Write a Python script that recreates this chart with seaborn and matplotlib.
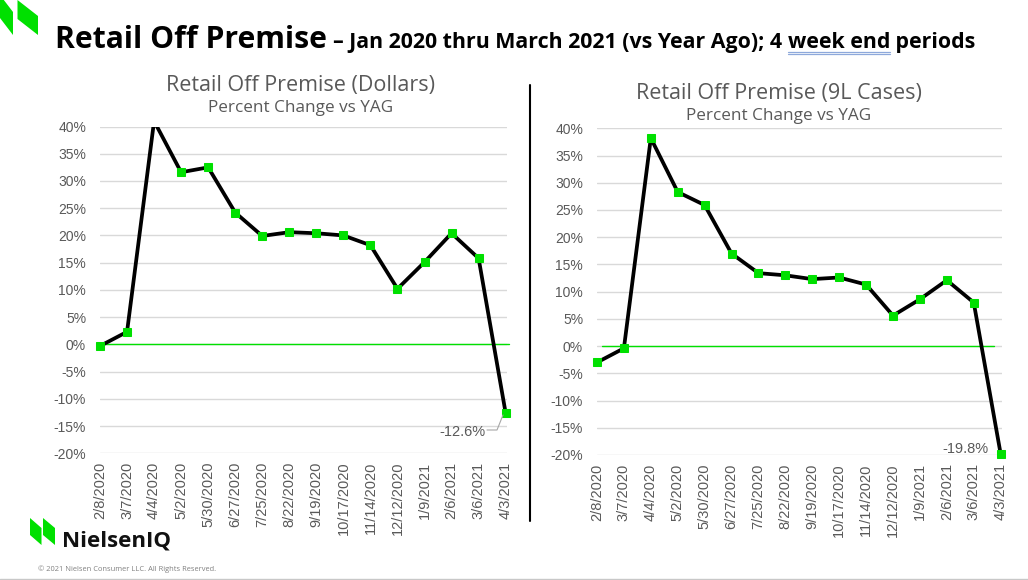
import matplotlib
matplotlib.use("Agg")
import matplotlib.pyplot as plt
import matplotlib.ticker as mticker
from matplotlib.patches import Polygon, Rectangle
from matplotlib.lines import Line2D
import seaborn as sns
import pandas as pd

periods = ["2/8/2020", "3/7/2020", "4/4/2020", "5/2/2020", "5/30/2020", "6/27/2020",
           "7/25/2020", "8/22/2020", "9/19/2020", "10/17/2020", "11/14/2020",
           "12/12/2020", "1/9/2021", "2/6/2021", "3/6/2021", "4/3/2021"]
dollars = [-0.3, 2.3, 41.0, 31.6, 32.5, 24.2, 19.9, 20.6, 20.4, 20.0, 18.2,
           10.2, 15.1, 20.4, 15.8, -12.6]
cases = [-3.0, -0.4, 38.2, 28.3, 25.9, 17.0, 13.4, 13.0, 12.3, 12.6, 11.3,
         5.6, 8.6, 12.1, 8.0, -19.8]
y_ticks = [-20, -15, -10, -5, 0, 5, 10, 15, 20, 25, 30, 35, 40]
chart_titles = ["Retail Off Premise (Dollars)", "Retail Off Premise (9L Cases)"]
chart_subtitle = "Percent Change vs YAG"
main_title = "Retail Off Premise"
main_sub = "\u2013 Jan 2020 thru March 2021 (vs Year Ago); 4 "
main_sub_u = "week end"
main_sub_end = " periods"

sns.set_theme(style="white")
plt.rcParams["font.family"] = ["Liberation Sans", "DejaVu Sans"]

W, H = 1028, 580
fig = plt.figure(figsize=(W / 100, H / 100), dpi=100)
fig.patch.set_facecolor("white")

GREEN = "#00E000"
GRAY = "#595959"
TFONT = ["Open Sans", "DejaVu Sans"]


def px(x, y):
    return x / W, 1 - y / H


def add_chart(rect, values, last_label, label_xy, leader, zspan):
    ax = fig.add_axes(rect)
    df = pd.DataFrame({"pos": range(len(periods)), "val": values})
    sns.lineplot(data=df, x="pos", y="val", ax=ax, color="black", linewidth=2.7,
                 marker="s", markersize=5.2, markerfacecolor=GREEN,
                 markeredgecolor=GREEN, zorder=3)
    ax.set_xlim(0, 15.05)
    ax.set_ylim(-20, 40)
    clip = Rectangle((-0.03, -0.05), 1.06, 1.05, transform=ax.transAxes,
                     facecolor="none", edgecolor="none")
    for ln in ax.lines:
        ln.set_clip_path(clip)
    ax.set_yticks(y_ticks)
    ax.yaxis.set_major_formatter(mticker.FuncFormatter(lambda v, p: f"{v:.0f}%"))
    ax.set_xticks(range(len(periods)))
    ax.set_xticklabels(periods, rotation=90)
    ax.tick_params(axis="y", labelsize=10, colors=GRAY, pad=10, length=0)
    ax.tick_params(axis="x", labelsize=10.5, colors=GRAY, pad=6, length=0)
    ax.set_xlabel("")
    ax.set_ylabel("")
    for s in ax.spines.values():
        s.set_visible(False)
    ax.yaxis.grid(True, color="#D9D9D9", linewidth=1)
    ax.xaxis.grid(False)
    ax.set_axisbelow(True)
    zl = ax.axhline(0, xmin=zspan[0], xmax=zspan[1], color=GREEN, linewidth=1, zorder=2)
    zl.set_clip_on(False)
    ax.annotate(last_label, xy=(15, values[-1]), xytext=label_xy,
                textcoords="offset pixels", ha="right", va="center",
                fontsize=10.5, color=GRAY)
    if leader:
        fig.add_artist(Line2D(leader[0], leader[1], color="#A6A6A6", linewidth=0.8,
                              transform=fig.transFigure))
    return ax


# left chart
l0, t0 = px(100, 126.5)
r0, b0 = px(507, 453.3)
ax1 = add_chart([l0, b0, r0 - l0, t0 - b0], dollars, "-12.6%", (-20, -19),
                ([487 / W, 497 / W, 503 / W], [1 - 430 / H, 1 - 430 / H, 1 - 415 / H]),
                (0.0, 1.005))
# right chart
l1, t1 = px(597, 128.3)
r1, b1 = px(1002, 455)
ax2 = add_chart([l1, b1, r1 - l1, t1 - b1], cases, "-19.8%", (-12, 5), None,
                (0.012, 0.98))

# chart titles
fig.text(*px(301, 86), chart_titles[0], ha="center", va="center", fontsize=15.5,
         color=GRAY, family=TFONT)
fig.text(*px(301, 108), chart_subtitle, ha="center", va="center", fontsize=12.3,
         color=GRAY, family=TFONT)
fig.text(*px(779, 94), chart_titles[1], ha="center", va="center", fontsize=15.5,
         color=GRAY, family=TFONT)
fig.text(*px(779, 116), chart_subtitle, ha="center", va="center", fontsize=12.3,
         color=GRAY, family=TFONT)

# main title
fig.text(*px(55, 48), main_title, ha="left", va="baseline", fontsize=21.7,
         fontweight="bold", color="black", family=TFONT)
fig.canvas.draw()
renderer = fig.canvas.get_renderer()
x = 333
SUBFS = 15.4
for part, under in [(main_sub, False), (main_sub_u, True), (main_sub_end, False)]:
    t = fig.text(*px(x, 48), part, ha="left", va="baseline", fontsize=SUBFS,
                 fontweight="bold", color="black", family=TFONT)
    bb = t.get_window_extent(renderer)
    if under:
        for yy in (51.5, 53.5):
            fig.add_artist(Line2D([bb.x0 / W, bb.x1 / W], [1 - yy / H, 1 - yy / H],
                                  color="#8EA9DB", linewidth=0.9,
                                  transform=fig.transFigure))
    probe = fig.text(0, 0, part.replace(" ", "\u00a0"), fontsize=SUBFS,
                     fontweight="bold", family=TFONT)
    w = probe.get_window_extent(renderer).width
    probe.remove()
    x += w

# divider
fig.add_artist(Line2D([530 / W, 530 / W], [1 - 85 / H, 1 - 521 / H], color="black",
                      linewidth=1.5, transform=fig.transFigure))


# logos
def para(x0, x1, ytop, h, shift):
    pts = [(x0, ytop), (x1, ytop + shift), (x1, ytop + shift + h), (x0, ytop + h)]
    return Polygon([(xx / W, 1 - yy / H) for xx, yy in pts], closed=True,
                   facecolor=GREEN, edgecolor="none", transform=fig.transFigure)


fig.add_artist(para(0, 13, -5, 23, 17))
fig.add_artist(para(17.5, 38, 0, 19, 16))
fig.add_artist(para(30, 41.5, 518, 17, 10))
fig.add_artist(para(43, 55, 518, 17, 10))
fig.text(*px(62, 541), "NielsenIQ", ha="left", va="center", fontsize=16,
         fontweight="bold", color="#111111", family=TFONT)
fig.text(*px(38, 569), "\u00a9 2021 Nielsen Consumer LLC. All Rights Reserved.",
         ha="left", va="center", fontsize=5.4, color="#808080", family=TFONT)
fig.add_artist(Line2D([0, 1], [1 - 578.5 / H, 1 - 578.5 / H], color="#C8C8C8",
                      linewidth=1, transform=fig.transFigure))

fig.savefig("out.png", dpi=100, facecolor="white")
